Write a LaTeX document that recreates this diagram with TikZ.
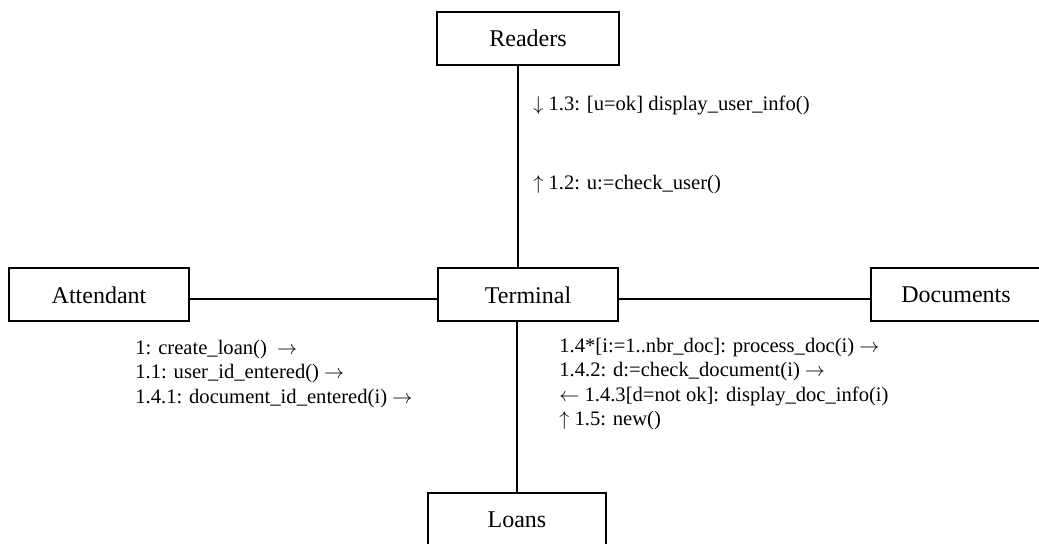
\documentclass[tikz,border=0pt]{standalone}
\usepackage{fontspec}
\setmainfont{Liberation Serif}
\usepackage{tikz}

\begin{document}
\begin{tikzpicture}[
    x=0.5pt, y=-0.5pt,
    box/.style={rectangle, draw, line width=1pt, minimum width=90pt, minimum height=26.5pt, inner sep=0pt, font=\fontsize{12}{14}\selectfont},
    msg/.style={anchor=west, inner sep=0pt, align=left, font=\fontsize{10.3}{12.25}\selectfont},
    link/.style={line width=0.85pt}
  ]
    \useasboundingbox (0,0) rectangle (1039,544);
    \node[box, minimum width=91pt] (readers) at (528,38.5) {Readers};
    \node[box] (attendant) at (99,295) {Attendant};
    \node[box] (terminal) at (528,295) {Terminal};
    \node[box, minimum width=85pt] (documents) at (956,295) {Documents};
    \node[box, minimum width=89pt] (loans) at (517,519.5) {Loans};

    \draw[link] ([xshift=-5pt]readers.south) -- ([xshift=-5pt]terminal.north);
    \draw[link] (terminal.south -| loans.north) -- (loans.north);
    \foreach \i/\j in {attendant/terminal,terminal/documents}
      \draw[link] ([yshift=-2pt]\i.east) -- ([yshift=-2pt]\j.west);

    \node[msg] (m13) at (533,105) {$\downarrow$ 1.3: [u=ok] display\_user\_info()};
    \node[msg] (m12) at (533,185) {$\uparrow$ 1.2: u:=check\_user()};
    \node[msg] (matt) at (135,374) {1: create\_loan()~ $\rightarrow$\\
      1.1: user\_id\_entered() $\rightarrow$\\
      1.4.1: document\_id\_entered(i) $\rightarrow$};
    \node[msg] (mterm) at (559,384) {1.4*[i:=1..nbr\_doc]: process\_doc(i) $\rightarrow$\\
      1.4.2: d:=check\_document(i) $\rightarrow$\\
      $\leftarrow$ 1.4.3[d=not ok]: display\_doc\_info(i)\\
      $\uparrow$ 1.5: new()};
  \end{tikzpicture}
\end{document}
